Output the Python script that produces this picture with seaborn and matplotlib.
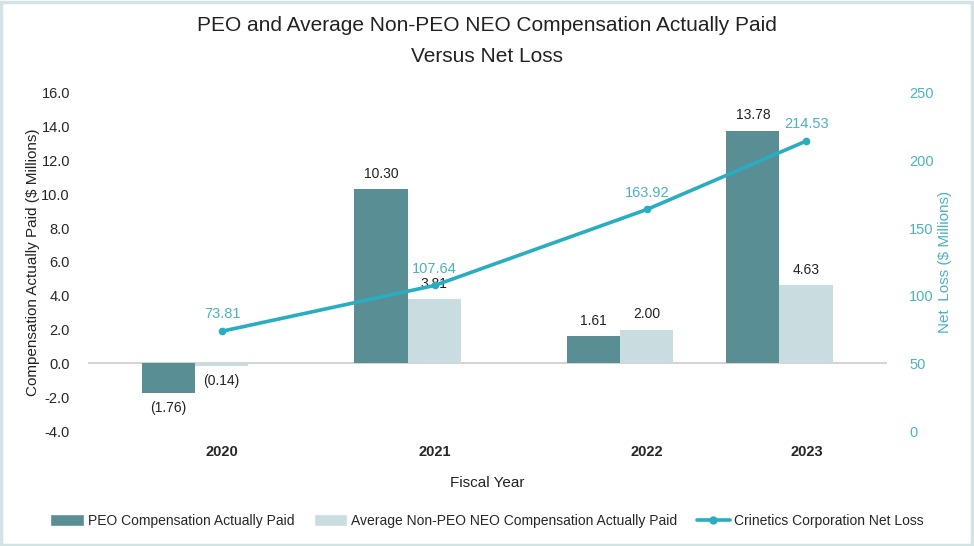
import numpy as np
import pandas as pd
import matplotlib
matplotlib.use("Agg")
import matplotlib.pyplot as plt
import seaborn as sns
from matplotlib.patches import Rectangle, Patch
from matplotlib.lines import Line2D
from matplotlib.ticker import FormatStrFormatter

# ---------------- data ----------------
years = ["2020", "2021", "2022", "2023"]
peo_cap = [-1.76, 10.30, 1.61, 13.78]
non_peo_cap = [-0.14, 3.81, 2.00, 4.63]
net_loss = [73.81, 107.64, 163.92, 214.53]
series_names = ["PEO Compensation Actually Paid",
                "Average Non-PEO NEO Compensation Actually Paid"]
line_name = "Crinetics Corporation Net Loss"

# ---------------- layout / style ----------------
group_pos = [0.0, 1.0, 2.0, 2.75]
label_shift = 0.127
c_peo = "#5a8e95"
c_non = "#c9dde0"
c_line = "#29adc0"
c_right = "#4ab3c3"

sns.set_theme(style="white")
plt.rcParams["font.family"] = ["Liberation Sans", "DejaVu Sans"]
plt.rcParams["axes.unicode_minus"] = False

fig = plt.figure(figsize=(9.74, 5.46), dpi=100)
ax = fig.add_axes([0.0903, 0.2106, 0.8204, 0.6191])

df = pd.DataFrame({
    "pos": group_pos * 2,
    "value": peo_cap + non_peo_cap,
    "series": [series_names[0]] * len(years) + [series_names[1]] * len(years),
})

sns.barplot(data=df, x="pos", y="value", hue="series", native_scale=True,
            palette=[c_peo, c_non], width=0.6667, dodge=True, ax=ax,
            legend=False, saturation=1, errorbar=None, linewidth=0)

def fmt(v):
    return f"({abs(v):.2f})" if v < 0 else f"{v:.2f}"

for cont, vals in zip(ax.containers, [peo_cap, non_peo_cap]):
    ax.bar_label(cont, labels=[fmt(v) for v in vals], padding=6,
                 fontsize=10, color="#222222")

ax.axhline(0, color="#cccccc", lw=1.2, zorder=0)
ax.set_ylim(-4, 16)
ax.set_yticks(np.arange(-4, 16.1, 2))
ax.yaxis.set_major_formatter(FormatStrFormatter("%.1f"))
ax.set_xlim(-0.504, 3.256)
tick_x = [p + label_shift for p in group_pos]
ax.set_xticks(tick_x)
ax.set_xticklabels(years, fontweight="bold", fontsize=10.5)
ax.tick_params(axis="x", length=0, pad=10)
ax.tick_params(axis="y", length=0, pad=13, labelsize=10.5)
ax.set_xlabel("Fiscal Year", fontsize=11, labelpad=12, color="#222222")
ax.set_ylabel("Compensation Actually Paid ($ Millions)", fontsize=11,
              labelpad=1, color="#222222")
for s in ax.spines.values():
    s.set_visible(False)

ax2 = ax.twinx()
sns.lineplot(x=tick_x, y=net_loss, ax=ax2, color=c_line, lw=2.6,
             marker="o", markersize=5.5, markeredgewidth=0, legend=False)
for x, v in zip(tick_x, net_loss):
    ax2.annotate(f"{v:.2f}", (x, v), xytext=(0, 7), textcoords="offset points",
                 ha="center", va="bottom", fontsize=10.5, color=c_right)
ax2.set_ylim(0, 250)
ax2.set_yticks(np.arange(0, 251, 50))
ax2.tick_params(axis="y", length=0, pad=16, labelsize=10.5, labelcolor=c_right)
ax2.set_ylabel("Net  Loss ($ Millions)", fontsize=11, color=c_right, labelpad=3)
for s in ax2.spines.values():
    s.set_visible(False)

fig.suptitle("PEO and Average Non-PEO NEO Compensation Actually Paid\nVersus Net Loss",
             y=0.97, fontsize=15, color="#222222", linespacing=1.75)

handles = [Patch(facecolor=c_peo, label=series_names[0]),
           Patch(facecolor=c_non, label=series_names[1]),
           Line2D([0], [0], color=c_line, lw=2.6, marker="o", markersize=5,
                  label=line_name)]
fig.legend(handles=handles, loc="center", bbox_to_anchor=(0.5, 1 - 521 / 546),
           ncol=3, frameon=False, fontsize=10, handlelength=2.4,
           handleheight=0.9, columnspacing=1.4, handletextpad=0.3)

fig.patches.append(Rectangle((0.001, 0.002), 0.997, 0.995, transform=fig.transFigure,
                             fill=False, edgecolor="#d3e2e5", lw=2.5))

fig.savefig("out.png", dpi=100)
